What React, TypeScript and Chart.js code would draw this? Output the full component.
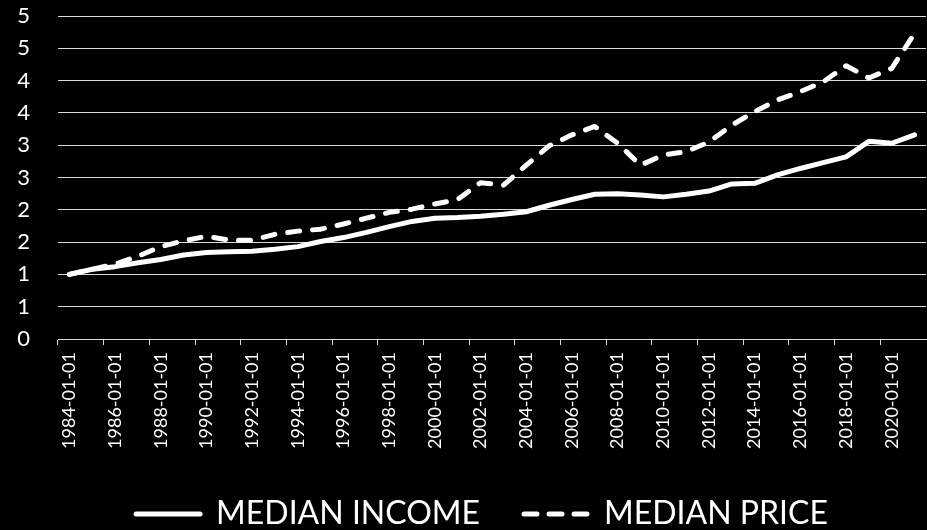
import React, { useEffect, useRef } from "react";
import { Chart, registerables } from "chart.js";

Chart.register(...registerables);

const categories: string[] = [
  "1984-01-01", "1985-01-01", "1986-01-01", "1987-01-01", "1988-01-01", "1989-01-01",
  "1990-01-01", "1991-01-01", "1992-01-01", "1993-01-01", "1994-01-01", "1995-01-01",
  "1996-01-01", "1997-01-01", "1998-01-01", "1999-01-01", "2000-01-01", "2001-01-01",
  "2002-01-01", "2003-01-01", "2004-01-01", "2005-01-01", "2006-01-01", "2007-01-01",
  "2008-01-01", "2009-01-01", "2010-01-01", "2011-01-01", "2012-01-01", "2013-01-01",
  "2014-01-01", "2015-01-01", "2016-01-01", "2017-01-01", "2018-01-01", "2019-01-01",
  "2020-01-01", "2021-01-01",
];

const medianIncome: number[] = [
  1.0, 1.08, 1.12, 1.18, 1.23, 1.3, 1.34, 1.35, 1.36, 1.39, 1.43, 1.51, 1.57, 1.65,
  1.74, 1.82, 1.87, 1.88, 1.9, 1.93, 1.97, 2.07, 2.16, 2.24, 2.25, 2.23, 2.2, 2.24,
  2.29, 2.4, 2.41, 2.54, 2.64, 2.73, 2.82, 3.06, 3.03, 3.16,
];

const medianPrice: number[] = [
  1.0, 1.08, 1.16, 1.28, 1.43, 1.52, 1.59, 1.53, 1.53, 1.62, 1.67, 1.7, 1.78, 1.87,
  1.96, 2.01, 2.09, 2.16, 2.42, 2.38, 2.69, 2.99, 3.16, 3.29, 3.03, 2.69, 2.85, 2.9,
  3.05, 3.31, 3.52, 3.7, 3.83, 3.98, 4.23, 4.04, 4.19, 4.73,
];

const seriesNames: string[] = ["MEDIAN INCOME", "MEDIAN PRICE"];

const FONT = "Lato, 'Open Sans', sans-serif";
const GRID = "#d9d9d9";
const DASH = [12, 13];

export default function App() {
  const ref = useRef<HTMLCanvasElement | null>(null);

  useEffect(() => {
    document.body.style.margin = "0";
    document.body.style.background = "#000";
    const canvas = ref.current;
    if (!canvas) return;
    const defaultGen = (Chart as any).defaults.plugins.legend.labels.generateLabels;
    const chart = new Chart(canvas, {
      type: "line",
      data: {
        labels: categories,
        datasets: [
          {
            label: seriesNames[0],
            data: medianIncome,
            borderColor: "#ffffff",
            backgroundColor: "#ffffff",
            borderWidth: 5,
            pointRadius: 0,
            tension: 0,
            borderCapStyle: "round",
            borderJoinStyle: "round",
          },
          {
            label: seriesNames[1],
            data: medianPrice,
            borderColor: "#ffffff",
            backgroundColor: "#ffffff",
            borderWidth: 5,
            borderDash: DASH,
            pointRadius: 0,
            tension: 0,
            borderCapStyle: "round",
            borderJoinStyle: "round",
          },
        ],
      },
      options: {
        responsive: false,
        animation: false,
        events: [],
        layout: { padding: { left: 15, right: -22, top: 16, bottom: -10 } },
        plugins: {
          tooltip: { enabled: false },
          legend: {
            display: true,
            position: "bottom",
            labels: {
              color: "#ffffff",
              font: { family: FONT, size: 32 },
              usePointStyle: true,
              pointStyle: "line",
              pointStyleWidth: 64,
              padding: 44,
              generateLabels: (c: any) =>
                defaultGen(c).map((item: any, i: number) => ({
                  ...item,
                  pointStyle: "line",
                  lineWidth: 5,
                  lineCap: "round",
                  lineDash: i === 1 ? [13, 12] : [],
                  strokeStyle: "#ffffff",
                  fillStyle: "#ffffff",
                })),
            },
          },
        },
        scales: {
          x: {
            type: "category",
            offset: true,
            border: { display: true, color: GRID, width: 1 },
            grid: {
              offset: true,
              drawOnChartArea: false,
              drawTicks: true,
              tickLength: 6,
              color: (ctx: any) => (ctx.index % 2 === 0 ? GRID : "rgba(0,0,0,0)"),
            },
            ticks: {
              autoSkip: false,
              maxRotation: 90,
              minRotation: 90,
              padding: 7,
              color: "#ffffff",
              font: { family: FONT, size: 18 },
              callback: (_v: any, i: number) => (i % 2 === 0 ? categories[i] : ""),
            },
            afterFit: (s: any) => {
              s.height = 115;
              s.paddingLeft = 0;
              s.paddingRight = 1;
            },
          },
          y: {
            min: 0,
            max: 5,
            border: { display: false },
            grid: { color: GRID, lineWidth: 1, drawTicks: false },
            ticks: {
              stepSize: 0.5,
              padding: 28,
              color: "#ffffff",
              font: { family: FONT, size: 22 },
              callback: (v: any) => String(Math.round(Number(v))),
            },
            afterFit: (s: any) => {
              s.width = 43;
              s.paddingTop = 0;
              s.paddingBottom = 0;
            },
          },
        },
      },
    } as any);
    return () => chart.destroy();
  }, []);

  return (
    <div style={{ position: "absolute", left: 0, top: 0, width: 927, height: 530, background: "#000" }}>
      <canvas ref={ref} width={927} height={530} style={{ display: "block" }} />
    </div>
  );
}
